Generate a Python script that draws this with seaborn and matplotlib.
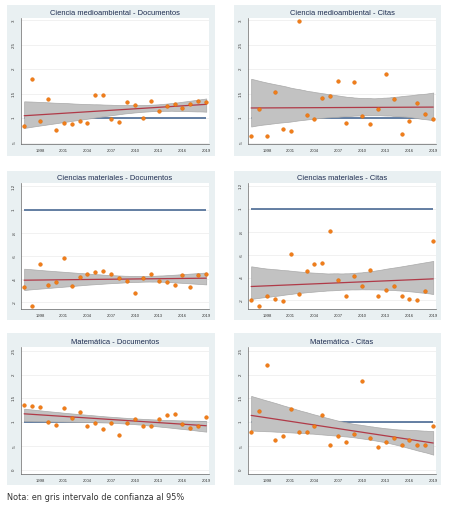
import numpy as np
import pandas as pd
import matplotlib.pyplot as plt
import seaborn as sns
from matplotlib.patches import Rectangle

years = list(range(1996, 2020))

medio_docs = [0.83, 1.81, 0.94, 1.39, 0.76, 0.90, 0.87, 0.94, 0.89, 1.47, 1.47, 0.99,
              0.93, 1.32, 1.27, 1.00, 1.36, 1.15, 1.24, 1.29, 1.20, 1.28, 1.35, 1.32]
medio_citas = [0.63, 1.19, 0.64, 1.54, 0.77, 0.73, 2.99, 1.07, 0.99, 1.41, 1.46, 1.77,
               0.90, 1.73, 1.04, 0.88, 1.18, 1.91, 1.39, 0.67, 0.94, 1.30, 1.09, 0.98]
mat_docs = [0.33, 0.17, 0.53, 0.35, 0.37, 0.58, 0.34, 0.42, 0.44, 0.46, 0.47, 0.44,
            0.41, 0.38, 0.28, 0.41, 0.44, 0.38, 0.37, 0.35, 0.43, 0.33, 0.43, 0.44]
mat_citas = [0.20, 0.15, 0.24, 0.21, 0.19, 0.61, 0.26, 0.46, 0.52, 0.53, 0.81, 0.38,
             0.24, 0.41, 0.33, 0.47, 0.24, 0.29, 0.33, 0.24, 0.21, 0.20, 0.28, 0.72]
mate_docs = [1.36, 1.34, 1.32, 1.01, 0.95, 1.29, 1.09, 1.22, 0.92, 0.99, 0.86, 0.99,
             0.73, 0.99, 1.06, 0.92, 0.91, 1.06, 1.16, 1.17, 0.97, 0.87, 0.91, 1.11]
mate_citas = [0.80, 1.24, 2.21, 0.62, 0.71, 1.27, 0.80, 0.80, 0.91, 1.16, 0.51, 0.70,
              0.59, 0.76, 1.86, 0.67, 0.48, 0.59, 0.66, 0.53, 0.62, 0.51, 0.53, 0.91]

titles = ['Ciencia medioambiental - Documentos', 'Ciencia medioambiental - Citas',
          'Ciencias materiales - Documentos', 'Ciencias materiales - Citas',
          'Matemática - Documentos', 'Matemática - Citas']
xticks = [1998, 2001, 2004, 2007, 2010, 2013, 2016, 2019]
yt_medio = [0.5, 1, 1.5, 2, 2.5, 3]
yl_medio = ['.5', '1', '1.5', '2', '2.5', '3']
yt_mat = [0.2, 0.4, 0.6, 0.8, 1, 1.2]
yl_mat = ['.2', '.4', '.6', '.8', '1', '1.2']
yt_mate = [0, 0.5, 1, 1.5, 2, 2.5]
yl_mate = ['0', '.5', '1', '1.5', '2', '2.5']

BG = '#e9f0f2'
BLUE = '#4a6a94'
RED = '#b03a48'
ORANGE = '#f07d1a'
W, H = 450, 509

sns.set_style('white')
plt.rcParams['font.family'] = ['Liberation Sans', 'DejaVu Sans']

fig = plt.figure(figsize=(4.5, 5.09), dpi=100)
fig.patch.set_facecolor('white')

cols_bg = [(7, 215), (234, 441)]
rows_bg = [(5, 156), (171, 320), (333, 485)]
cols_ax = [(21, 209), (248, 436)]
rows_ax = [(18, 144), (183, 309), (347, 474)]

panels = [
    (medio_docs, (0.47, 3.05), yt_medio, yl_medio),
    (medio_citas, (0.47, 3.05), yt_medio, yl_medio),
    (mat_docs, (0.14, 1.23), yt_mat, yl_mat),
    (mat_citas, (0.124, 1.23), yt_mat, yl_mat),
    (mate_docs, (-0.09, 2.58), yt_mate, yl_mate),
    (mate_citas, (-0.09, 2.58), yt_mate, yl_mate),
]

for i, (vals, ylim, yt, yl) in enumerate(panels):
    r, c = divmod(i, 2)
    x0, x1 = cols_bg[c]
    y0, y1 = rows_bg[r]
    fig.add_artist(Rectangle((x0 / W, 1 - y1 / H), (x1 - x0) / W, (y1 - y0) / H,
                             transform=fig.transFigure, facecolor=BG, edgecolor='none', zorder=0))
    ax0, ax1 = cols_ax[c]
    ay0, ay1 = rows_ax[r]
    ax = fig.add_axes([ax0 / W, 1 - ay1 / H, (ax1 - ax0) / W, (ay1 - ay0) / H])
    ax.set_facecolor('white')
    df = pd.DataFrame({'year': years, 'valor': vals})

    for t in yt:
        ax.axhline(t, color='#ececec', lw=0.5, zorder=0.5)

    # banda de confianza (gris opaco, tapa la linea de referencia)
    sns.regplot(data=df, x='year', y='valor', ax=ax, scatter=False, ci=95, seed=3,
                n_boot=2000, color='gray', line_kws={'alpha': 0})
    for coll in ax.collections:
        coll.set_facecolor('#c2c2c2')
        coll.set_alpha(1)
        coll.set_edgecolor('#a9a9a9')
        coll.set_linewidth(0.5)
        coll.set_zorder(2)
    ax.hlines(1, years[0], years[-1], color=BLUE, lw=1.2, zorder=1)
    sns.regplot(data=df, x='year', y='valor', ax=ax, scatter=False, ci=None,
                color=RED, line_kws={'lw': 0.9, 'zorder': 3})
    sns.scatterplot(data=df, x='year', y='valor', ax=ax, color=ORANGE, s=7,
                    edgecolor='#e06800', linewidth=0.3, zorder=4)

    ax.set_xlim(1995.6, 2019.35)
    ax.set_ylim(*ylim)
    ax.set_xticks(xticks)
    ax.set_xticklabels([str(x) for x in xticks], fontsize=3, color='#333333')
    ax.set_yticks(yt)
    ax.set_yticklabels(yl, fontsize=3.2, rotation=90, va='center', color='#333333')
    ax.tick_params(length=2, width=0.4, pad=1.5, color='#555555')
    ax.set_xlabel('')
    ax.set_ylabel('')
    for s in ['top', 'right']:
        ax.spines[s].set_visible(False)
    for s in ['left', 'bottom']:
        ax.spines[s].set_color('#666666')
        ax.spines[s].set_linewidth(0.5)
    ax.set_title(titles[i], fontsize=5.4, color='#1c2b4f', pad=2.5)

fig.text(7 / W, 1 - 497 / H, 'Nota: en gris intervalo de confianza al 95%',
         fontsize=5.9, color='#333333', va='center', family=['DejaVu Sans'])

fig.savefig('out.png', dpi=100, facecolor='white')
